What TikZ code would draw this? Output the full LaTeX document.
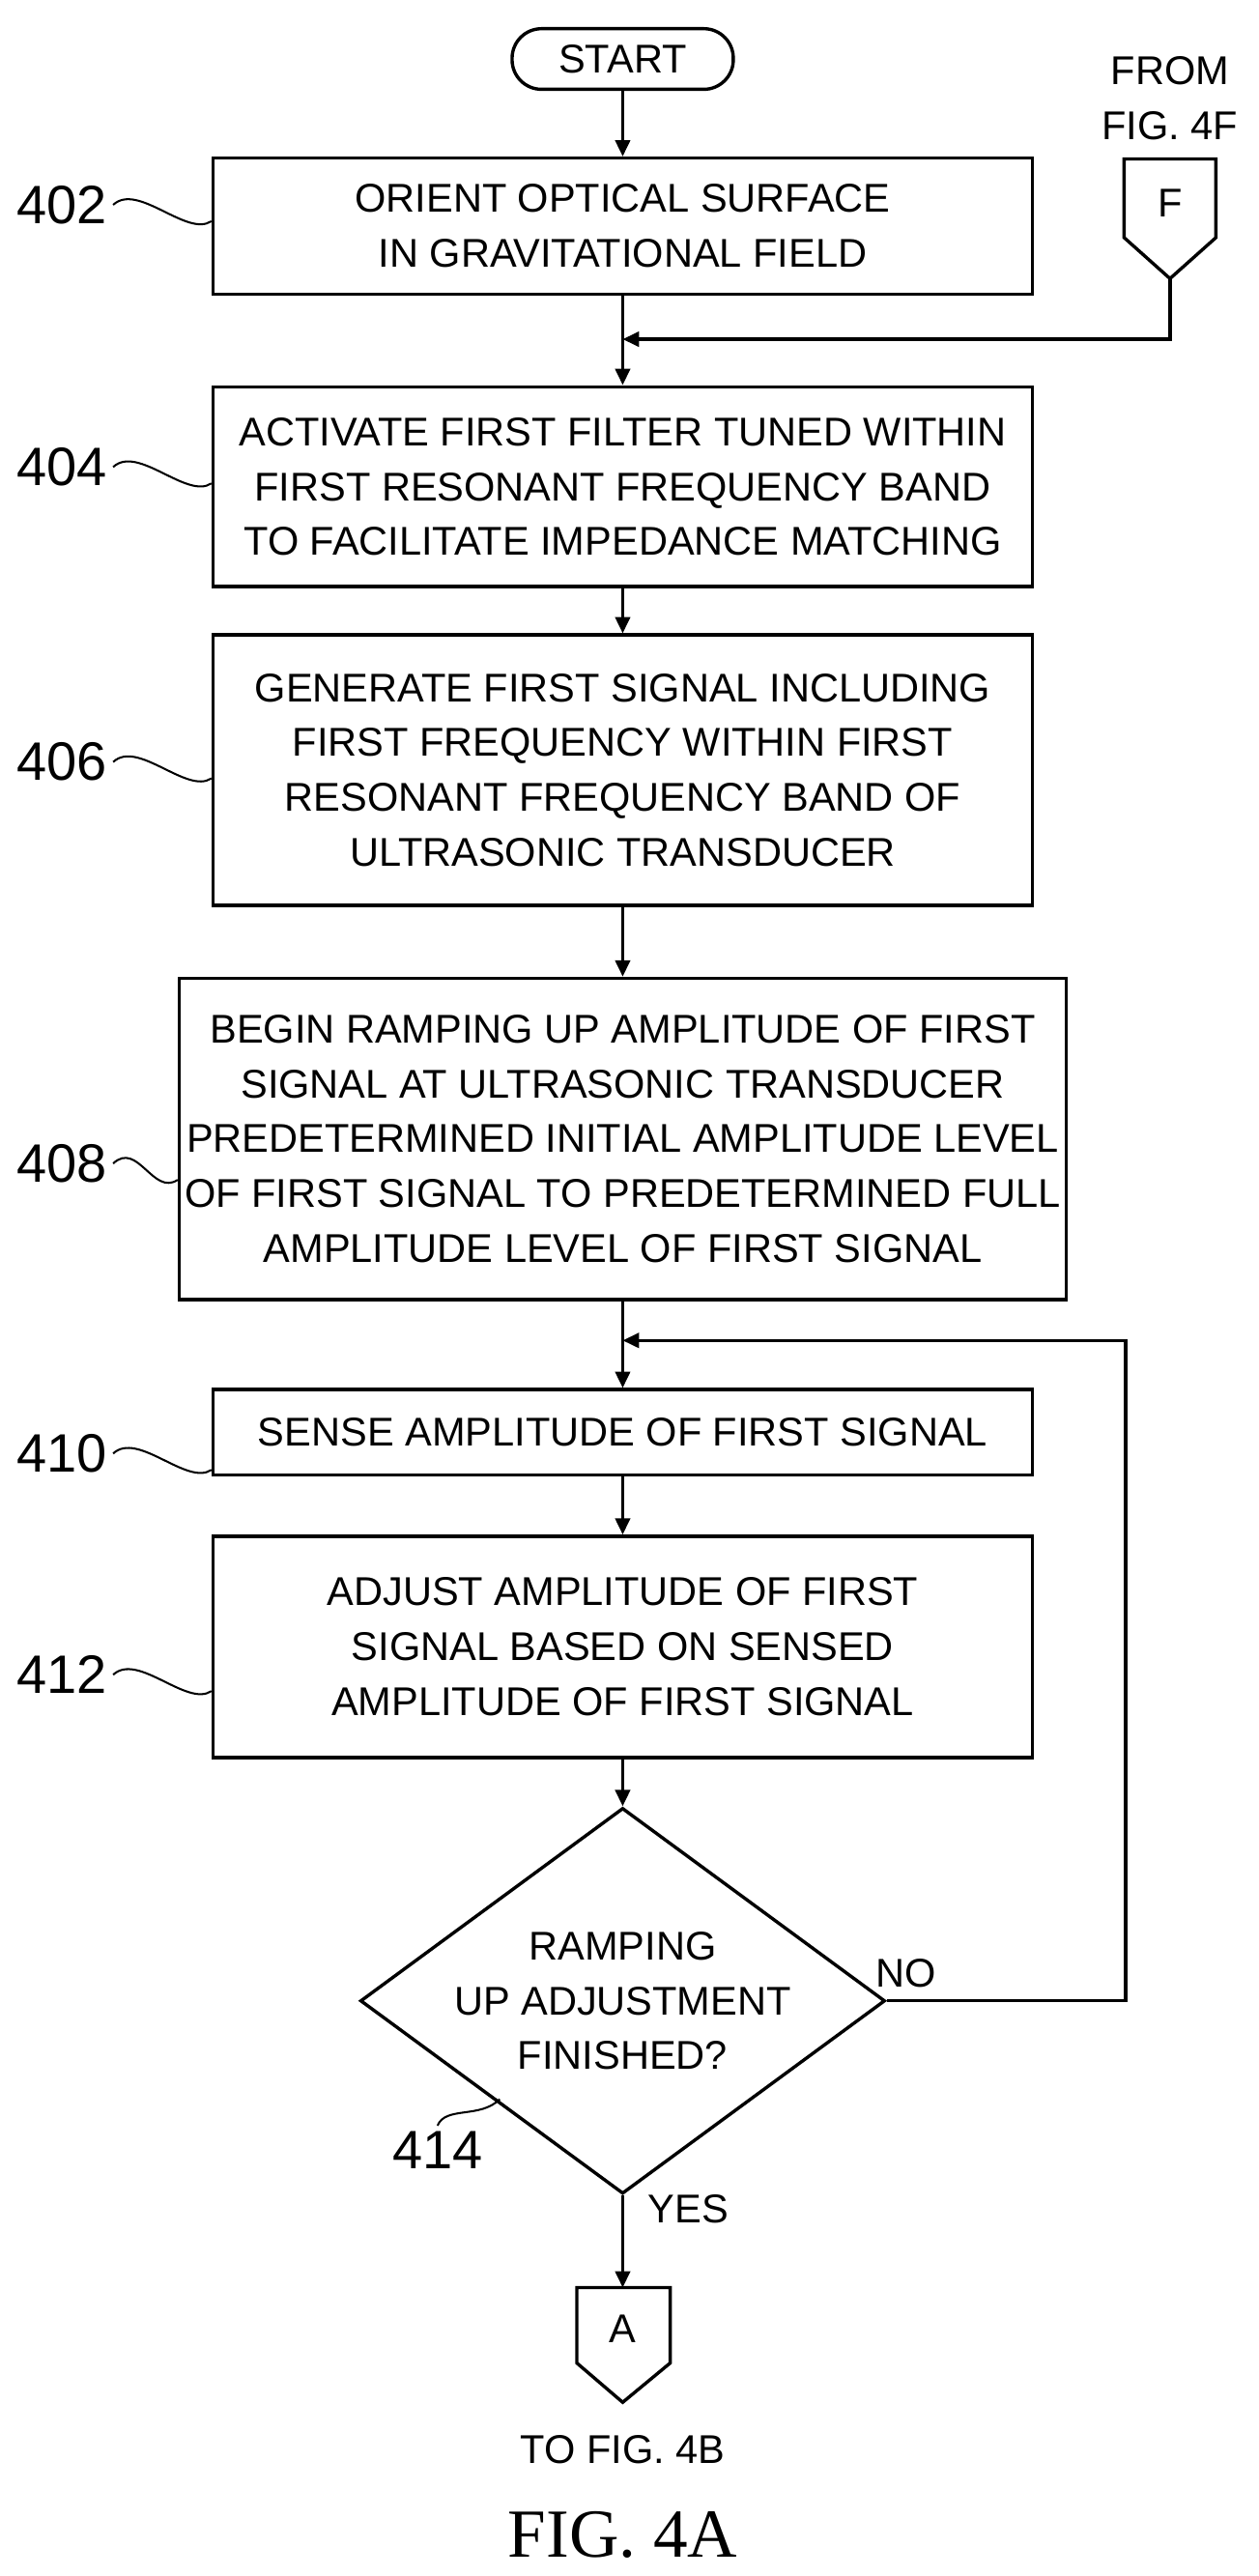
\documentclass[tikz,border=0pt]{standalone}
\usepackage{fontspec}
\setmainfont{Liberation Sans}
\newfontfamily\serifx{Liberation Serif}
\usetikzlibrary{shapes.geometric,arrows.meta}
\begin{document}
\begin{tikzpicture}[x=1pt,y=-1pt,
  txt/.style={font=\fontsize{24.5}{33.5}\selectfont},
  box/.style={draw,line width=2pt,minimum width=500pt,align=center,txt},
  lab/.style={font=\fontsize{33}{36}\selectfont},
  arr/.style={line width=2pt,-{Triangle[length=10pt,width=9pt]}},
  ln/.style={line width=2pt}]
\useasboundingbox (0,0) rectangle (768,1572);
\node[draw,line width=2pt,rounded corners=18pt,minimum width=135pt,minimum height=37pt,txt] (start) at (380,36) {START};
\node[box,minimum height=83pt] (b402) at (380,138) {ORIENT OPTICAL SURFACE\\IN GRAVITATIONAL FIELD};
\node[box,minimum height=122pt] (b404) at (380,297) {ACTIVATE FIRST FILTER TUNED WITHIN\\FIRST RESONANT FREQUENCY BAND\\TO FACILITATE IMPEDANCE MATCHING};
\node[box,minimum height=165pt] (b406) at (380,470) {GENERATE FIRST SIGNAL INCLUDING\\FIRST FREQUENCY WITHIN FIRST\\RESONANT FREQUENCY BAND OF\\ULTRASONIC TRANSDUCER};
\node[box,minimum height=196pt] (b408) at (380,695) {BEGIN RAMPING UP AMPLITUDE OF FIRST\\SIGNAL AT ULTRASONIC TRANSDUCER\\PREDETERMINED INITIAL AMPLITUDE LEVEL\\OF FIRST SIGNAL TO PREDETERMINED FULL\\AMPLITUDE LEVEL OF FIRST SIGNAL};
\node[box,minimum height=52pt] (b410) at (380,874) {SENSE AMPLITUDE OF FIRST SIGNAL};
\node[box,minimum height=135pt] (b412) at (380,1005) {ADJUST AMPLITUDE OF FIRST\\SIGNAL BASED ON SENSED\\AMPLITUDE OF FIRST SIGNAL};
\node[draw,line width=2pt,diamond,aspect=1.36,minimum width=303pt,minimum height=223pt,inner sep=0pt,align=center,txt] (d414) at (380,1221) {RAMPING\\UP ADJUSTMENT\\FINISHED?};
% off-page F
\draw[ln] (686,97) -- (742,97) -- (742,145) -- (714,170) -- (686,145) -- cycle;
\node[txt] (cf) at (714,124) {F};
\coordinate (fb) at (714,170);
\node[txt,align=center] (fromf) at (714,60) {FROM\\FIG. 4F};
% off-page A
\draw[ln] (352,1396) -- (409,1396) -- (409,1442) -- (380,1466) -- (352,1442) -- cycle;
\node[txt] (ca) at (380,1421) {A};
\coordinate (at) at (380,1396);
\node[txt] (tob) at (380,1495) {TO FIG. 4B};
\node[font=\serifx\fontsize{42}{46}\selectfont] (fig) at (380,1547) {FIG. 4A};
% connectors
\draw[arr] (start) -- (b402);
\coordinate (j1) at (380,207);
\draw[ln] (b402) -- (j1);
\draw[arr] (fb) |- (j1);
\draw[arr] (j1) -- (b404);
\draw[arr] (b404) -- (b406);
\draw[arr] (b406) -- (b408);
\coordinate (j2) at (380,818);
\draw[ln] (b408) -- (j2);
\draw[arr] (j2) -- (b410);
\draw[arr] (b410) -- (b412);
\draw[arr] (b412) -- (d414.north);
\coordinate (lp) at (687,1221);
\draw[arr] (d414.east) -- (lp) |- (j2);
\draw[arr] (d414.south) -- (at);
\node[txt] (no) at (553,1204) {NO};
\node[txt] (yes) at (420,1348) {YES};
% step labels
\node[lab] (l402) at (38,125) {402};
\node[lab] (l404) at (38,285) {404};
\node[lab] (l406) at (38,465) {406};
\node[lab] (l408) at (38,710) {408};
\node[lab] (l410) at (38,887) {410};
\node[lab] (l412) at (38,1022) {412};
\node[lab] (l414) at (267,1312) {414};
\foreach \n/\y in {402/125,404/285,406/465,408/710,410/887,412/1022}{
  \draw[line width=1.2pt] (l\n.east) .. controls +(15,-14) and +(-15,10) .. (b\n.west |- 0,\y+10);
}
\draw[line width=1.2pt] (l414.north) .. controls +(5,-12) and +(-12,12) .. (305,1281);
\end{tikzpicture}
\end{document}
